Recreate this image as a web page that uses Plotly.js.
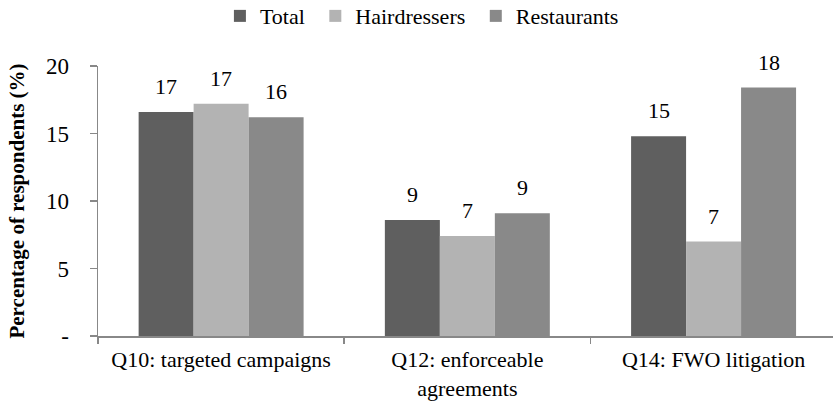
<!DOCTYPE html>
<html>
<head>
<meta charset="utf-8">
<script src="https://cdn.plot.ly/plotly-3.0.1.min.js"></script>
<style>html,body{margin:0;padding:0;background:#fff;}#chart{width:833px;height:402px;}</style>
</head>
<body>
<div id="chart"></div>
<script>
const categories = ["Q10: targeted campaigns", "Q12: enforceable<br>agreements", "Q14: FWO litigation"];
const seriesNames = ["Total", "Hairdressers", "Restaurants"];
const totalValues = [16.6, 8.6, 14.8];
const hairdressersValues = [17.2, 7.4, 7.0];
const restaurantsValues = [16.2, 9.1, 18.4];
const yTickVals = [0, 5, 10, 15, 20];
const yTickText = ["-", "5", "10", "15", "20"];
const seriesColors = ["#5f5f5f", "#b3b3b3", "#898989"];

const FONT = "Liberation Serif, Times New Roman, serif";
const allValues = [totalValues, hairdressersValues, restaurantsValues];

const traces = allValues.map((vals, i) => ({
  type: "bar",
  name: seriesNames[i] + "\u00a0",
  x: categories,
  y: vals,
  marker: {color: seriesColors[i], line: {width: 0}},
  hoverinfo: "skip"
}));

const plotW = 735;
const xRange = [-0.5, 2.485];
const bargap = 0.33;
const pxPerCat = plotW / (xRange[1] - xRange[0]);
const barPx = pxPerCat * (1 - bargap) / 3;

const annotations = [];
allValues.forEach((vals, i) => {
  vals.forEach((v, j) => {
    annotations.push({
      x: categories[j], y: v, xref: "x", yref: "y",
      xshift: (i - 1) * barPx, yshift: 11,
      text: String(Math.round(v)),
      showarrow: false, yanchor: "bottom", xanchor: "center",
      font: {family: FONT, size: 22, color: "#000"}
    });
  });
});

const layout = {
  width: 833, height: 402,
  margin: {l: 98, r: 0, t: 66, b: 66},
  paper_bgcolor: "#fff", plot_bgcolor: "#fff",
  font: {family: FONT, size: 22, color: "#000"},
  barmode: "group",
  bargap: bargap, bargroupgap: 0,
  showlegend: true,
  legend: {
    orientation: "h", x: 0.264, xref: "container", xanchor: "left",
    y: 0.96, yref: "container", yanchor: "middle",
    font: {family: FONT, size: 22, color: "#000"},
    itemclick: false, traceorder: "normal"
  },
  xaxis: {
    type: "category",
    range: xRange,
    showline: true, linecolor: "#888", linewidth: 1.5,
    ticks: "outside", tickson: "boundaries", ticklen: 6, tickcolor: "#888", tickwidth: 1.5,
    showgrid: false, zeroline: false,
    ticklabelstandoff: 3,
    tickfont: {family: FONT, size: 22, color: "#000"},
    automargin: false, fixedrange: true
  },
  yaxis: {
    range: [0, 20],
    tickvals: yTickVals, ticktext: yTickText,
    showline: true, linecolor: "#888", linewidth: 1.5,
    ticks: "outside", ticklen: 7, tickcolor: "#888", tickwidth: 1.5,
    showgrid: false, zeroline: false,
    ticklabelstandoff: 16,
    tickfont: {family: FONT, size: 23, color: "#000"},
    title: {text: "<b>Percentage of respondents (%)</b>", font: {family: FONT, size: 21, color: "#000"}, standoff: 15},
    automargin: false, fixedrange: true
  },
  annotations: annotations
};

Plotly.newPlot("chart", traces, layout, {displayModeBar: false, staticPlot: true});
</script>
</body>
</html>
